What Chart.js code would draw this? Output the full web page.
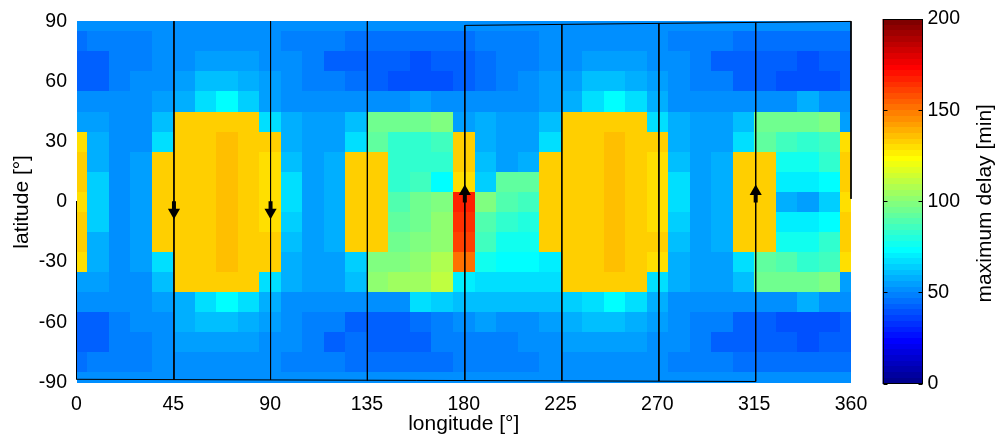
<!DOCTYPE html>
<html>
<head>
<meta charset="utf-8">
<title>maximum delay</title>
<script src="https://cdn.jsdelivr.net/npm/chart.js@4.4.1/dist/chart.umd.min.js"></script>
<style>
  html, body { margin: 0; padding: 0; background: #fff; }
  #wrap { position: relative; width: 1003px; height: 439px; }
  #map { position: absolute; left: 0; top: 0; }
  #bar { position: absolute; left: 860px; top: 0; }
</style>
</head>
<body>
<div id="wrap">
  <canvas id="map" width="1003" height="439"></canvas>
  <canvas id="bar" width="143" height="439"></canvas>
</div>
<script>
// grid cell centres (deg)
const lons = [0, 10, 20, 30, 40, 50, 60, 70, 80, 90, 100, 110, 120, 130, 140, 150, 160, 170, 180,
              190, 200, 210, 220, 230, 240, 250, 260, 270, 280, 290, 300, 310, 320, 330, 340, 350, 360];
const lats = [90, 80, 70, 60, 50, 40, 30, 20, 10, 0, -10, -20, -30, -40, -50, -60, -70, -80, -90];

// maximum delay [min], one row per latitude, west to east
const latN90 = [51,51,51,51,51,51,51,51,51,51,51,51,51,51,51,51,51,51,51,51,51,51,51,51,51,51,51,51,51,51,51,51,51,51,51,51,51];
const latN80 = [45,48,48,48,50,51,51,51,51,51,48,48,48,46,45,45,46,46,46,48,48,48,51,51,51,51,51,51,48,48,48,46,46,46,46,46,46];
const latN70 = [41,43,48,48,50,51,54,54,54,52,51,48,43,43,43,43,39,43,43,46,48,48,51,51,54,54,54,52,51,48,43,43,43,43,40,43,43];
const latN60 = [42,43,48,51,52,55,60,60,57,54,51,48,48,46,43,39,39,39,43,46,48,51,54,56,60,60,57,54,51,48,48,43,43,39,39,39,43];
const latN50 = [50,50,50,52,54,58,66,73,64,56,52,52,52,51,51,51,54,51,51,51,51,52,55,59,66,73,66,57,52,52,52,51,51,51,57,51,51];
const latN40 = [54,56,51,51,61,133,133,133,133,66,57,54,54,62,95,95,95,97,54,57,54,54,62,133,133,133,133,66,57,54,54,62,95,95,95,97,54];
const latN30 = [130,57,52,52,66,133,133,136,133,133,58,54,54,66,92,83,83,86,133,57,54,54,66,133,133,136,133,133,57,54,54,66,92,86,83,86,130];
const latN20 = [133,59,52,56,133,133,133,136,133,130,62,54,57,133,133,82,82,82,133,62,54,57,133,133,133,136,133,130,62,54,57,133,133,77,77,82,133];
const latN10 = [133,64,52,56,133,133,133,136,133,130,66,54,57,133,133,83,86,73,130,65,92,92,133,133,133,136,133,130,66,54,57,133,133,69,69,73,133];
const lat0   = [130,64,52,56,133,133,133,136,133,130,66,54,57,133,133,89,95,98,167,98,89,86,133,133,133,136,133,130,66,54,57,133,133,57,54,64,130];
const latS10 = [133,64,52,56,133,133,133,136,133,130,64,54,57,133,133,92,95,101,164,89,82,80,133,133,133,136,133,130,64,54,57,133,133,69,69,73,133];
const latS20 = [133,59,52,56,133,133,133,136,133,133,62,54,57,133,133,95,98,103,161,86,77,77,133,133,133,136,133,133,62,54,57,133,133,77,77,82,133];
const latS30 = [130,57,52,54,66,133,133,136,133,133,57,54,54,65,98,98,101,108,151,77,73,73,70,133,133,136,133,130,57,54,54,66,92,89,83,86,130];
const latS40 = [54,56,51,51,61,133,133,133,133,66,57,54,54,62,101,106,106,111,69,67,66,66,66,133,133,133,133,66,57,54,54,62,95,95,95,97,54];
const latS50 = [50,50,50,52,54,59,68,73,66,57,52,52,52,51,51,53,66,63,62,61,61,61,62,64,68,73,66,57,52,52,52,51,51,51,57,51,51];
const latS60 = [42,43,48,50,52,59,60,60,59,54,51,48,48,43,43,43,45,48,52,54,51,51,54,59,60,60,59,54,51,48,48,43,43,39,39,39,43];
const latS70 = [41,43,48,48,50,54,54,54,54,52,51,48,43,45,43,43,43,47,47,48,48,51,51,54,54,54,54,52,51,48,43,43,43,43,40,43,43];
const latS80 = [45,48,48,48,50,51,52,52,52,51,48,48,48,46,46,46,46,46,48,48,48,48,51,51,52,52,52,51,48,48,48,46,46,46,46,46,46];
const latS90 = [51,51,51,51,51,51,51,51,51,51,51,51,51,51,51,51,51,51,51,51,51,51,51,51,51,51,51,51,51,51,51,51,51,51,51,51,51];

const delayGrid = [latN90, latN80, latN70, latN60, latN50, latN40, latN30, latN20, latN10, lat0,
                   latS10, latS20, latS30, latS40, latS50, latS60, latS70, latS80, latS90];

// ground track: meridian passes and the near-polar crossings
const passLons    = [45.3, 90.2, 135.2, 180.5, 225.6, 270.7, 315.7];
const passTops    = [90, 90, 90, 87.9, 88.4, 88.9, 89.4];
const passBottoms = [-88.6, -88.7, -88.9, -89.0, -89.2, -89.3, -89.5];
const southLon = [0, 315.7],  southLat = [-88.4, -89.5];
const northLon = [180.5, 360], northLat = [87.9, 89.9];
const eastEdgeLat = [90, 1.5];   // along lon 360
const westEdgeLat = [0.3, -88.4]; // along lon 0

// direction of flight at the equator
const arrowLons = [45.3, 90.2, 180.5, 315.7];
const arrowDirs = [-1, -1, 1, 1];

const cbMin = 0, cbMax = 200, jetLevels = 64;
const cbTicks = [0, 50, 100, 150, 200];

// MATLAB jet(64)
function jetRgb(index) {
  const u = k => (k < 1 || k > 47) ? 0 : k <= 16 ? k / 16 : k <= 31 ? 1 : (48 - k) / 16;
  const r = u(index - 24), g = u(index - 8), b = u(index + 8);
  return 'rgb(' + Math.round(r * 255) + ',' + Math.round(g * 255) + ',' + Math.round(b * 255) + ')';
}
function jetColor(v) {
  const idx = Math.min(jetLevels, Math.max(1, Math.floor((v - cbMin) / (cbMax - cbMin) * jetLevels) + 1));
  return jetRgb(idx);
}

Chart.defaults.font.family = "'Liberation Sans', Arial, sans-serif";
Chart.defaults.color = '#000';

const heatmapPlugin = {
  id: 'heatmap',
  beforeDatasetsDraw(chart) {
    const { ctx, scales: { x, y } } = chart;
    ctx.save();
    delayGrid.forEach((row, i) => {
      const lat = lats[i];
      const top = Math.round(y.getPixelForValue(Math.min(90, lat + 5)));
      const bottom = Math.round(y.getPixelForValue(Math.max(-90, lat - 5)));
      row.forEach((v, j) => {
        const lon = lons[j];
        const left = Math.round(x.getPixelForValue(Math.max(0, lon - 5)));
        const right = Math.round(x.getPixelForValue(Math.min(360, lon + 5)));
        ctx.fillStyle = jetColor(v);
        ctx.fillRect(left, top, right - left, bottom - top);
      });
    });
    ctx.restore();
  }
};

const trackStyle = { showLine: true, borderColor: '#000', borderWidth: 1, pointRadius: 0, clip: 4 };
const datasets = [];
passLons.forEach((lon, i) => {
  datasets.push({ ...trackStyle, data: [{ x: lon, y: passTops[i] }, { x: lon, y: passBottoms[i] }] });
});
datasets.push({ ...trackStyle, data: [{ x: southLon[0], y: southLat[0] }, { x: southLon[1], y: southLat[1] }] });
datasets.push({ ...trackStyle, data: [{ x: northLon[0], y: northLat[0] }, { x: northLon[1], y: northLat[1] }] });
datasets.push({ ...trackStyle, data: [{ x: 360, y: eastEdgeLat[0] }, { x: 360, y: eastEdgeLat[1] }] });
datasets.push({ ...trackStyle, data: [{ x: 0, y: westEdgeLat[0] }, { x: 0, y: westEdgeLat[1] }] });

// arrows: thick shaft plus a triangle head
arrowLons.forEach((lon, i) => {
  const d = arrowDirs[i];
  datasets.push({ showLine: true, borderColor: '#000', borderWidth: 4, pointRadius: 0,
    data: [{ x: lon, y: -0.3 * d }, { x: lon, y: 4 * d }] });
  datasets.push({ showLine: false, pointStyle: 'triangle', pointRadius: 7, pointBorderWidth: 0,
    pointBackgroundColor: '#000', pointRotation: d < 0 ? 180 : 0,
    data: [{ x: lon, y: 5.2 * d }] });
});

new Chart(document.getElementById('map'), {
  type: 'scatter',
  data: { datasets },
  options: {
    responsive: false,
    animation: false,
    devicePixelRatio: 1,
    layout: { padding: { top: 19, right: 152, left: 0, bottom: 0 } },
    plugins: { legend: { display: false }, tooltip: { enabled: false } },
    scales: {
      x: {
        type: 'linear', min: 0, max: 360,
        grid: { display: false, drawTicks: false },
        border: { display: false },
        ticks: { stepSize: 45, autoSkip: false, maxRotation: 0, padding: 10, font: { size: 19.5 } },
        title: { display: true, text: 'longitude [°]', font: { size: 21 }, padding: { top: 0, bottom: 2 } },
        afterFit(scale) { scale.height = 56.5; }
      },
      y: {
        type: 'linear', min: -90, max: 90,
        grid: { display: false, drawTicks: false },
        border: { display: false },
        ticks: { stepSize: 30, autoSkip: false, padding: 9.5, font: { size: 19.5 } },
        title: { display: true, text: 'latitude [°]', font: { size: 21 }, padding: { top: 10, bottom: 0 } },
        afterFit(scale) { scale.width = 76.5; }
      }
    }
  },
  plugins: [heatmapPlugin]
});

const colorbarPlugin = {
  id: 'colorbar',
  beforeDatasetsDraw(chart) {
    const { ctx, chartArea: a, scales: { y } } = chart;
    const step = (cbMax - cbMin) / jetLevels;
    ctx.save();
    for (let k = 0; k < jetLevels; k++) {
      const y0 = Math.round(y.getPixelForValue(cbMin + k * step));
      const y1 = Math.round(y.getPixelForValue(cbMin + (k + 1) * step));
      ctx.fillStyle = jetRgb(k + 1);
      ctx.fillRect(a.left, y1, a.right - a.left, y0 - y1);
    }
    const l = Math.round(a.left) + 0.5, r = Math.round(a.right) - 0.5;
    ctx.strokeStyle = '#000';
    ctx.lineWidth = 1;
    ctx.strokeRect(l, Math.round(a.top) + 0.5, r - l, Math.round(a.bottom) - Math.round(a.top) - 1);
    ctx.beginPath();
    cbTicks.forEach(t => {
      const ty = Math.round(y.getPixelForValue(t)) + 0.5;
      ctx.moveTo(l, ty); ctx.lineTo(l + 4, ty);
      ctx.moveTo(r, ty); ctx.lineTo(r - 4, ty);
    });
    ctx.stroke();
    // axis label, reading upwards
    ctx.translate(125, (a.top + a.bottom) / 2 + 2);
    ctx.rotate(-Math.PI / 2);
    ctx.fillStyle = '#000';
    ctx.font = "21px 'Liberation Sans', Arial, sans-serif";
    ctx.textAlign = 'center';
    ctx.textBaseline = 'middle';
    ctx.fillText('maximum delay [min]', 0, 0);
    ctx.restore();
  }
};

new Chart(document.getElementById('bar'), {
  type: 'scatter',
  data: { datasets: [] },
  options: {
    responsive: false,
    animation: false,
    devicePixelRatio: 1,
    layout: { padding: { top: 19, left: 22.5, right: 0, bottom: 55.5 } },
    plugins: { legend: { display: false }, tooltip: { enabled: false } },
    scales: {
      x: { type: 'linear', display: false, min: 0, max: 1 },
      y: {
        type: 'linear', position: 'right', min: cbMin, max: cbMax,
        grid: { display: false, drawTicks: false },
        border: { display: false },
        ticks: { stepSize: 50, autoSkip: false, padding: 4.5, font: { size: 19.5 } },
        afterFit(scale) { scale.width = 80; }
      }
    }
  },
  plugins: [colorbarPlugin]
});
</script>
</body>
</html>
